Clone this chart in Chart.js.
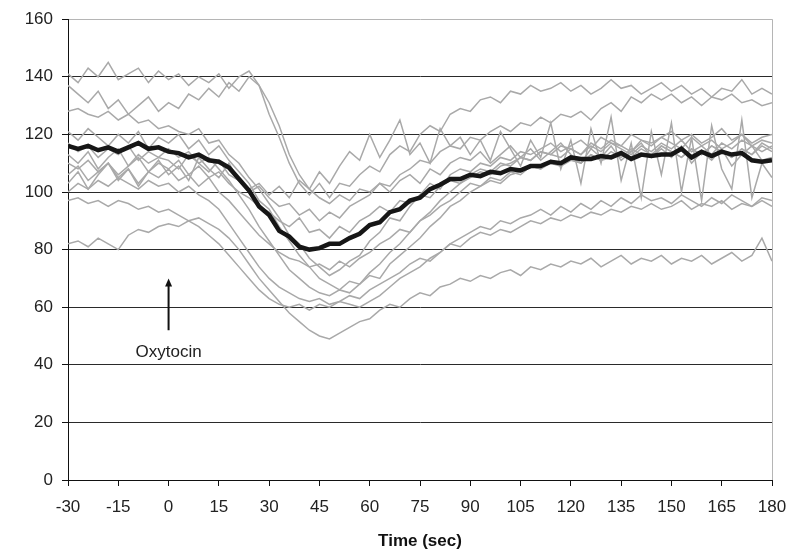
<!DOCTYPE html>
<html>
<head>
<meta charset="utf-8">
<script src="https://cdn.jsdelivr.net/npm/chart.js@4/dist/chart.umd.min.js"></script>
<style>
  html, body { margin: 0; padding: 0; background: #fff; }
  #wrap { width: 794px; height: 555px; }
</style>
</head>
<body>
<div id="wrap"><canvas id="hrChart"></canvas></div>
<script>
// sample times (sec), one reading every 3 s
var times = [-30,-27,-24,-21,-18,-15,-12,-9,-6,-3,
  0,3,6,9,12,15,18,21,24,27,
  30,33,36,39,42,45,48,51,54,57,
  60,63,66,69,72,75,78,81,84,87,
  90,93,96,99,102,105,108,111,114,117,
  120,123,126,129,132,135,138,141,144,147,
  150,153,156,159,162,165,168,171,174,177,
  180];

// individual traces (grey)
var trace1 = [141,138,143,140,145,139,141,143,138,142,
  139,141,137,140,138,141,136,140,142,137,
  127,119,110,103,99,103,98,103,102,106,
  109,107,113,116,114,120,123,121,127,129,
  128,132,133,131,135,134,137,135,136,138,
  135,137,134,136,139,136,137,134,136,138,
  135,137,134,136,133,136,135,139,134,136,
  134];
var trace2 = [137,134,131,135,129,132,127,130,133,128,
  131,129,134,132,136,133,138,135,140,137,
  131,123,113,106,101,98,96,99,97,101,
  100,103,102,106,108,111,110,114,116,115,
  119,118,121,123,121,124,123,126,124,127,
  126,128,125,129,131,128,133,131,134,132,
  134,131,133,130,133,132,134,131,132,130,
  131];
var trace3 = [128,129,127,126,128,125,127,124,125,122,
  123,121,120,122,117,118,113,110,105,101,
  96,91,85,82,77,74,71,73,76,78,
  83,86,91,90,95,99,103,101,106,108,
  107,110,109,112,111,114,113,115,117,114,
  116,118,115,119,117,116,120,118,117,119,
  121,118,120,117,119,122,118,120,117,119,
  120];
var trace4 = [121,118,122,119,116,120,117,121,115,119,
  117,120,115,118,113,116,111,107,103,97,
  94,88,83,78,74,70,68,66,69,68,
  72,75,79,82,86,90,93,97,100,103,
  105,107,106,109,110,112,111,114,113,116,
  115,113,117,115,118,116,114,118,116,119,
  117,115,119,116,118,115,117,120,116,118,
  117];
var trace5 = [117,114,116,112,115,113,116,111,114,112,
  115,112,114,110,112,108,104,99,94,88,
  83,78,73,70,67,65,64,66,65,68,
  71,70,75,78,81,84,88,91,95,97,
  100,102,104,103,106,107,109,108,111,110,
  112,110,113,111,114,112,115,113,112,116,
  114,112,115,113,116,114,112,115,113,117,
  115];
var trace6 = [113,110,114,108,112,115,109,113,110,112,
  111,108,113,110,107,111,106,104,100,102,
  98,95,96,92,94,90,93,91,95,97,
  99,103,100,104,106,103,108,106,110,112,
  111,114,110,113,116,112,115,111,114,117,
  113,110,115,112,116,111,114,117,112,115,
  112,116,110,114,111,115,109,113,116,111,
  112];
var trace7 = [110,108,111,107,110,106,109,112,107,110,
  108,111,106,109,105,107,103,100,98,95,
  93,90,88,91,86,87,84,88,86,90,
  92,95,93,97,96,99,98,102,104,103,
  106,108,107,110,109,112,111,114,113,112,
  115,113,116,114,117,115,113,116,114,117,
  115,118,114,116,113,117,115,118,116,114,
  116];
var trace8 = [106,109,104,107,110,105,108,103,107,105,
  108,104,106,102,105,100,97,93,89,85,
  82,79,77,76,74,75,73,76,74,77,
  79,82,84,87,86,90,92,95,97,100,
  103,102,105,104,107,106,109,108,110,109,
  111,110,113,111,112,114,112,115,113,116,
  114,112,115,113,116,114,112,115,113,116,
  114];
var trace9 = [103,107,101,106,110,104,108,102,107,111,
  106,109,104,112,108,105,110,104,101,103,
  99,102,98,104,101,107,103,109,114,111,
  120,112,118,125,113,117,110,122,116,119,
  113,118,111,121,115,109,118,112,124,108,
  118,103,122,110,126,104,117,98,121,106,
  124,100,119,97,123,108,101,125,98,110,
  105];
var trace10 = [97,98,96,97,95,97,96,94,95,93,
  94,92,90,88,85,82,78,74,70,66,
  63,61,60,61,59,61,60,62,61,60,
  62,64,67,70,72,74,77,79,82,84,
  86,88,87,90,89,91,92,94,92,95,
  93,96,94,97,95,98,96,99,97,98,
  96,99,97,95,98,96,99,97,95,98,
  97];
var trace11 = [100,103,101,104,102,105,103,101,104,102,
  103,100,102,99,97,94,89,84,79,74,
  70,67,65,63,62,63,61,62,64,63,
  66,68,70,72,75,77,76,79,82,81,
  84,86,85,87,86,88,90,89,91,90,
  92,91,93,92,94,93,95,94,96,94,
  95,97,94,96,95,97,94,96,95,97,
  95];
var trace12 = [82,83,81,84,82,80,85,87,86,88,
  89,88,90,91,89,87,84,80,75,70,
  66,62,58,55,52,50,49,51,53,55,
  56,59,61,60,63,65,64,67,68,70,
  69,71,70,72,73,71,74,73,75,74,
  76,75,77,74,76,78,75,77,76,78,
  75,77,76,78,75,77,79,76,78,84,
  76];

// mean trace (black)
var meanTrace = [116,115,116,114.5,115.5,114,115.5,117,115,115.5,
  114,113.5,112,113,111,110.5,108.5,104.5,100.5,95,
  92,86.5,84.5,81,80,80.5,82,82,84,85.5,
  88.5,89.5,93,94,97,98,101,102.5,104.5,104.5,
  106,105.5,107,106.5,108,107.5,109,109,110.5,110,
  112,111.5,111.5,112.5,112,113.5,111.5,113,112.5,113,
  113,115,112,114,112.5,114,113,113.5,111,110.5,
  111];

var traces = [trace1, trace2, trace3, trace4, trace5, trace6, trace7, trace8, trace9, trace10, trace11, trace12];

// oxytocin marker (data units)
var markerTime = 0;
var markerFrom = 52;
var markerTo = 70;
var markerLabelY = 44.5;
var markerLabel = 'Oxytocin';

Chart.defaults.font.family = "'Liberation Sans', Arial, sans-serif";
Chart.defaults.color = '#222';

function toPoints(arr) {
  return arr.map(function(v, i) { return { x: times[i], y: v }; });
}

var datasets = traces.map(function(t) {
  return { data: toPoints(t), borderColor: '#a9a9a9', borderWidth: 1.5, pointRadius: 0, tension: 0, fill: false, order: 2 };
});
datasets.push({ data: toPoints(meanTrace), borderColor: '#161616', borderWidth: 4.5, pointRadius: 0, tension: 0, fill: false, order: 1 });

var markerPlugin = {
  id: 'oxyMarker',
  afterDatasetsDraw: function(chart) {
    var c = chart.ctx, xs = chart.scales.x, ys = chart.scales.y;
    var px = xs.getPixelForValue(markerTime);
    var y0 = ys.getPixelForValue(markerFrom), y1 = ys.getPixelForValue(markerTo);
    c.save();
    c.strokeStyle = '#111'; c.fillStyle = '#111'; c.lineWidth = 2;
    c.beginPath(); c.moveTo(px, y0); c.lineTo(px, y1 + 6); c.stroke();
    c.beginPath(); c.moveTo(px, y1); c.lineTo(px - 3.5, y1 + 8); c.lineTo(px + 3.5, y1 + 8); c.closePath(); c.fill();
    c.font = "17px 'Liberation Sans', Arial, sans-serif";
    c.fillStyle = '#222'; c.textAlign = 'center'; c.textBaseline = 'middle';
    c.fillText(markerLabel, px, ys.getPixelForValue(markerLabelY));
    c.restore();
  }
};

new Chart(document.getElementById('hrChart').getContext('2d'), {
  type: 'line',
  data: { datasets: datasets },
  options: {
    responsive: true, maintainAspectRatio: false, animation: false,
    layout: { padding: { top: 18, right: 22, left: 8, bottom: 0 } },
    plugins: { legend: { display: false }, tooltip: { enabled: false } },
    scales: {
      x: {
        type: 'linear', min: -30, max: 180,
        afterFit: function(s) { s.height = 75; s.paddingLeft = 0; s.paddingRight = 0; },
        border: { color: '#111', width: 1 },
        grid: { color: function(ctx) { return ctx.tick && ctx.tick.value === 180 ? '#b5b5b5' : 'rgba(0,0,0,0)'; }, tickColor: '#111', tickLength: 6, lineWidth: 1 },
        ticks: { stepSize: 15, padding: 11, maxRotation: 0, autoSkip: false, font: { size: 17 }, color: '#222' },
        title: { display: true, text: 'Time (sec)', font: { size: 17, weight: 'bold' }, color: '#111', padding: { top: 0, bottom: 3 } }
      },
      y: {
        min: 0, max: 160,
        afterFit: function(s) { s.width = 60; },
        border: { color: '#111', width: 1 },
        grid: { color: function(ctx) { return ctx.tick && ctx.tick.value === 160 ? '#b5b5b5' : '#2a2a2a'; }, tickColor: '#111', tickLength: 6, lineWidth: 1 },
        ticks: { stepSize: 20, padding: 9, font: { size: 17 }, color: '#222' }
      }
    }
  },
  plugins: [markerPlugin]
});
</script>
</body>
</html>
